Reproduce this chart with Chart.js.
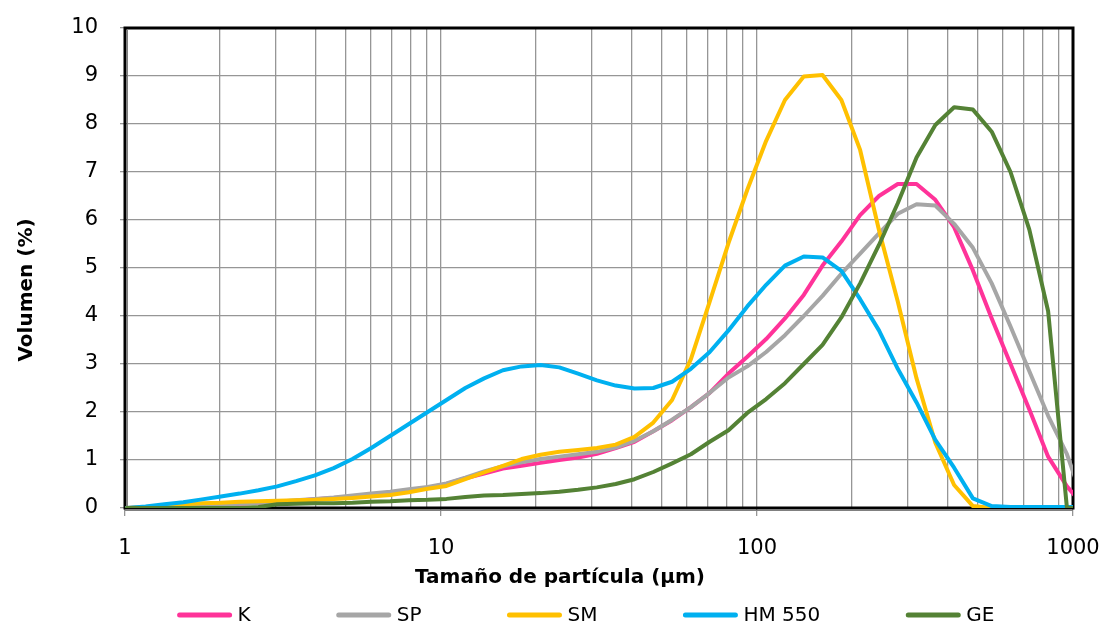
<!DOCTYPE html>
<html>
<head>
<meta charset="utf-8">
<title>Distribución de tamaño de partícula</title>
<script src="https://cdn.jsdelivr.net/npm/chart.js@4.4.1/dist/chart.umd.min.js"></script>
<style>
  html, body { margin: 0; padding: 0; background: #ffffff; }
  #wrap { width: 1105px; height: 628px; }
</style>
</head>
<body>
<div id="wrap"><canvas id="psd" width="1105" height="628"></canvas></div>
<script>
// Particle size classes (µm), log-spaced
const sizes = [1.013, 1.162, 1.333, 1.529, 1.753, 2.011, 2.306, 2.645, 3.033, 3.478,
  3.989, 4.575, 5.246, 6.017, 6.900, 7.913, 9.075, 10.41, 11.94, 13.69,
  15.70, 18.00, 20.65, 23.68, 27.15, 31.14, 35.71, 40.96, 46.97, 53.87,
  61.78, 70.85, 81.25, 93.18, 106.9, 122.6, 140.6, 161.2, 184.9, 212.0,
  243.2, 278.9, 319.8, 366.7, 420.5, 482.3, 553.1, 634.3, 727.5, 834.3,
  956.8, 1097];

// Volume fraction (%) per size class
const volK = [0, 0.01, 0.02, 0.03, 0.05, 0.07, 0.09, 0.11, 0.13, 0.15,
  0.18, 0.21, 0.24, 0.28, 0.32, 0.37, 0.42, 0.50, 0.62, 0.72,
  0.82, 0.88, 0.94, 1.00, 1.05, 1.13, 1.25, 1.38, 1.60, 1.83,
  2.10, 2.40, 2.80, 3.15, 3.52, 3.95, 4.44, 5.05, 5.55, 6.10,
  6.50, 6.75, 6.75, 6.42, 5.85, 4.95, 3.95, 3.00, 2.05, 1.07,
  0.45, 0.00];
const volSP = [0, 0.01, 0.02, 0.03, 0.05, 0.07, 0.09, 0.11, 0.13, 0.16,
  0.19, 0.22, 0.26, 0.30, 0.34, 0.39, 0.44, 0.51, 0.63, 0.76,
  0.87, 0.95, 1.02, 1.07, 1.12, 1.17, 1.26, 1.40, 1.60, 1.84,
  2.10, 2.40, 2.72, 2.95, 3.25, 3.60, 4.00, 4.42, 4.88, 5.30,
  5.72, 6.13, 6.33, 6.30, 5.92, 5.42, 4.68, 3.78, 2.85, 1.92,
  1.12, 0.00];
const volSM = [0, 0.02, 0.05, 0.08, 0.10, 0.11, 0.13, 0.14, 0.15, 0.16,
  0.17, 0.19, 0.21, 0.24, 0.27, 0.33, 0.40, 0.46, 0.60, 0.74,
  0.88, 1.02, 1.11, 1.17, 1.21, 1.25, 1.32, 1.48, 1.78, 2.25,
  3.10, 4.30, 5.52, 6.63, 7.65, 8.50, 8.99, 9.02, 8.50, 7.46,
  5.79, 4.30, 2.70, 1.36, 0.48, 0.04, 0, 0, 0, 0,
  0, 0];
const volHM550 = [0, 0.03, 0.08, 0.12, 0.18, 0.24, 0.30, 0.37, 0.45, 0.56,
  0.68, 0.83, 1.02, 1.25, 1.50, 1.75, 2.00, 2.25, 2.50, 2.70,
  2.87, 2.95, 2.98, 2.93, 2.80, 2.66, 2.55, 2.49, 2.50, 2.63,
  2.90, 3.25, 3.70, 4.20, 4.65, 5.05, 5.24, 5.22, 4.94, 4.35,
  3.70, 2.90, 2.20, 1.42, 0.84, 0.20, 0.04, 0.02, 0.02, 0.02,
  0.02, 0.02];
const volGE = [0, 0, 0, 0, 0, 0, 0, 0.02, 0.08, 0.09,
  0.10, 0.10, 0.11, 0.13, 0.14, 0.16, 0.17, 0.19, 0.23, 0.26,
  0.27, 0.29, 0.31, 0.34, 0.38, 0.43, 0.50, 0.60, 0.75, 0.93,
  1.12, 1.38, 1.62, 1.98, 2.27, 2.60, 3.00, 3.40, 3.97, 4.68,
  5.48, 6.35, 7.30, 7.98, 8.35, 8.30, 7.84, 7.00, 5.80, 4.10,
  0, 0];

const seriesNames = ['K', 'SP', 'SM', 'HM 550', 'GE'];
const seriesValues = [volK, volSP, volSM, volHM550, volGE];
const seriesColors = ['#FF3399', '#A6A6A6', '#FFC000', '#00B0F0', '#548235'];

// Axis tick values
const xGridValues = [1, 2, 3, 4, 5, 6, 7, 8, 9, 10, 20, 30, 40, 50, 60, 70, 80, 90,
  100, 200, 300, 400, 500, 600, 700, 800, 900, 1000];
const xTickLabels = [1, 10, 100, 1000];
const yTicks = [0, 1, 2, 3, 4, 5, 6, 7, 8, 9, 10];

const xTitle = 'Tamaño de partícula (µm)';
const yTitle = 'Volumen (%)';

const FONT = '"DejaVu Sans", "Liberation Sans", sans-serif';
const GRID = '#969696';

const datasets = seriesNames.map((name, i) => ({
  label: name,
  data: sizes.map((s, k) => ({ x: s, y: seriesValues[i][k] })),
  borderColor: seriesColors[i],
  backgroundColor: seriesColors[i],
  borderWidth: 4,
  pointRadius: 0,
  tension: 0,
  borderJoinStyle: 'round',
  borderCapStyle: 'round',
  fill: false,
  order: seriesNames.length - i   // later series are painted on top
}));

// Plot frame, axis titles and the legend row underneath
const decorations = {
  id: 'decorations',
  beforeDatasetsDraw(chart) {
    const { ctx, chartArea: a } = chart;
    ctx.save();
    ctx.strokeStyle = '#000';
    ctx.lineWidth = 3;
    ctx.strokeRect(a.left, a.top, a.right - a.left, a.bottom - a.top);
    ctx.lineWidth = 1;
    ctx.strokeStyle = '#808080';
    ctx.beginPath();
    ctx.moveTo(a.left + 2.5, a.top + 1.5);
    ctx.lineTo(a.left + 2.5, a.bottom - 1.5);
    ctx.moveTo(a.left, a.bottom + 2.5);
    ctx.lineTo(a.right, a.bottom + 2.5);
    ctx.stroke();
    ctx.restore();
  },
  afterDraw(chart) {
    const { ctx } = chart;
    ctx.save();
    ctx.fillStyle = '#000';
    ctx.font = 'bold 20px ' + FONT;
    ctx.textAlign = 'center';
    ctx.textBaseline = 'middle';
    ctx.fillText(xTitle, 560, 578);
    ctx.save();
    ctx.translate(27, 290);
    ctx.rotate(-Math.PI / 2);
    ctx.fillText(yTitle, 0, 0);
    ctx.restore();

    // legend
    ctx.font = '20px ' + FONT;
    ctx.textAlign = 'left';
    const lineLen = 54, gapText = 6, gapItem = 86, cy = 615;
    const widths = chart.data.datasets.map(d => lineLen + gapText + ctx.measureText(d.label).width);
    const total = widths.reduce((s, w) => s + w, 0) + gapItem * (widths.length - 1);
    let x = 586 - total / 2;
    chart.data.datasets.forEach((d, i) => {
      ctx.strokeStyle = d.borderColor;
      ctx.lineWidth = 5;
      ctx.lineCap = 'round';
      ctx.beginPath();
      ctx.moveTo(x + 2, cy);
      ctx.lineTo(x + lineLen - 2, cy);
      ctx.stroke();
      ctx.fillStyle = '#000';
      ctx.fillText(d.label, x + lineLen + gapText, cy + 1);
      x += widths[i] + gapItem;
    });
    ctx.restore();
  }
};

new Chart(document.getElementById('psd'), {
  type: 'line',
  data: { datasets },
  options: {
    responsive: false,
    animation: false,
    layout: { padding: { top: 28, right: 32, left: 0, bottom: 0 } },
    plugins: { legend: { display: false }, tooltip: { enabled: false } },
    scales: {
      x: {
        type: 'logarithmic',
        min: 1,
        max: 1000,
        afterBuildTicks: s => { s.ticks = xGridValues.map(v => ({ value: v })); },
        afterFit: s => { s.height = 120; s.paddingLeft = 0; s.paddingRight = 0; },
        ticks: {
          autoSkip: false,
          maxRotation: 0,
          minRotation: 0,
          padding: 20,
          color: '#000',
          font: { family: FONT, size: 21 },
          callback: v => (xTickLabels.includes(v) ? String(v) : '')
        },
        grid: {
          color: GRID,
          lineWidth: 1.3,
          tickLength: 8,
          tickColor: c => (c.tick && xTickLabels.includes(c.tick.value) ? GRID : 'rgba(0,0,0,0)')
        },
        border: { display: false }
      },
      y: {
        min: 0,
        max: 10,
        afterBuildTicks: s => { s.ticks = yTicks.map(v => ({ value: v })); },
        afterFit: s => { s.width = 125; s.paddingTop = 0; s.paddingBottom = 0; },
        ticks: {
          padding: 22,
          color: '#000',
          font: { family: FONT, size: 21 },
          callback: v => String(v)
        },
        grid: { color: GRID, lineWidth: 1.3, tickLength: 5 },
        border: { display: false }
      }
    }
  },
  plugins: [decorations]
});
</script>
</body>
</html>
